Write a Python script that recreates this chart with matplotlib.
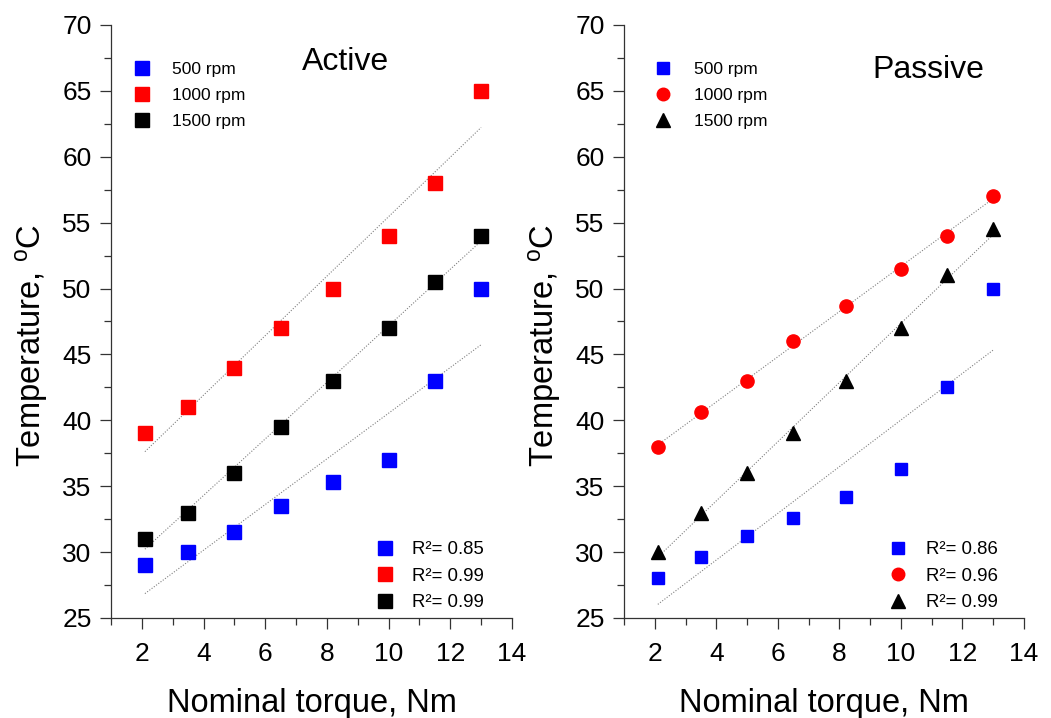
import matplotlib
matplotlib.use('Agg')
import matplotlib.pyplot as plt
from matplotlib.lines import Line2D
from matplotlib.ticker import MultipleLocator
import numpy as np

plt.rcParams['font.family'] = ['Liberation Sans', 'DejaVu Sans']
plt.rcParams['mathtext.fontset'] = 'custom'
plt.rcParams['mathtext.rm'] = 'Liberation Sans'
plt.rcParams['mathtext.it'] = 'Liberation Sans:italic'

# torque values (Nm)
torque = [2.1, 3.5, 5.0, 6.5, 8.2, 10.0, 11.5, 13.0]

# Active cooling temperatures (C)
active_500 = [29, 30, 31.5, 33.5, 35.3, 37, 43, 50]
active_1000 = [39, 41, 44, 47, 50, 54, 58, 65]
active_1500 = [31, 33, 36, 39.5, 43, 47, 50.5, 54]
active_r2 = ["0.85", "0.99", "0.99"]

# Passive cooling temperatures (C)
passive_500 = [28, 29.6, 31.2, 32.6, 34.2, 36.3, 42.5, 50]
passive_1000 = [38, 40.6, 43, 46, 48.7, 51.5, 54, 57]
passive_1500 = [30, 33, 36, 39, 43, 47, 51, 54.5]
passive_r2 = ["0.86", "0.96", "0.99"]

speeds = ["500 rpm", "1000 rpm", "1500 rpm"]
colors = ["#0000ff", "#ff0000", "#000000"]

fig = plt.figure(figsize=(10.51, 7.18), dpi=100)
ax1 = fig.add_axes([0.1056, 0.1393, 0.3815, 0.826])
ax2 = fig.add_axes([0.5937, 0.1393, 0.3806, 0.826])


def draw_panel(ax, series, markers, sizes, r2, title, title_xy, top_leg, bot_leg):
    x = np.array(torque)
    for ys, m, ms, c in zip(series, markers, sizes, colors):
        y = np.array(ys)
        k, b = np.polyfit(x, y, 1)
        ax.plot(x, k * x + b, color="#808080", lw=0.8, ls=(0, (1, 1.5)), zorder=1)
        ax.plot(x, y, ls="none", marker=m, ms=ms, color=c, mec=c, zorder=3)

    ax.set_xlim(1, 14)
    ax.set_ylim(25, 70)
    ax.xaxis.set_major_locator(MultipleLocator(2))
    ax.xaxis.set_minor_locator(MultipleLocator(1))
    ax.yaxis.set_major_locator(MultipleLocator(5))
    ax.yaxis.set_minor_locator(MultipleLocator(2.5))
    ax.spines["top"].set_visible(False)
    ax.spines["right"].set_visible(False)
    for s in ("left", "bottom"):
        ax.spines[s].set_color("#333333")
        ax.spines[s].set_linewidth(0.9)
    ax.tick_params(which="major", direction="out", length=8, width=0.9,
                   labelsize=19, colors="#333333", labelcolor="black")
    ax.tick_params(which="minor", direction="out", length=5, width=0.9, colors="#333333")
    ax.tick_params(axis="x", pad=9)
    ax.tick_params(axis="y", pad=6)
    ax.set_xlabel("Nominal torque, Nm", fontsize=23.5, labelpad=16)
    ax.set_ylabel(r"Temperature, $^{\mathrm{o}}$C", fontsize=23.5)
    ax.yaxis.set_label_coords(-0.152, 0.46)

    ax.text(title_xy[0], title_xy[1], title, transform=ax.transAxes,
            fontsize=23, ha="center", va="center")

    handles = [Line2D([], [], ls="none", marker=m, ms=ms * 0.95, color=c)
               for m, ms, c in zip(markers, sizes, colors)]
    leg1 = ax.legend(handles, speeds, loc="upper left", bbox_to_anchor=(top_leg[0], 0.938),
                     frameon=False, fontsize=12.5, handlelength=1.0,
                     handletextpad=top_leg[1], borderpad=0, borderaxespad=0,
                     labelspacing=0.63)
    ax.add_artist(leg1)
    ax.legend(handles, ["R\u00b2= " + v for v in r2], loc="lower left",
              bbox_to_anchor=(bot_leg[0], 0.011), frameon=False, fontsize=13.4,
              handlelength=0.93, handletextpad=bot_leg[1], borderpad=0,
              borderaxespad=0, labelspacing=0.52)


draw_panel(ax1, [active_500, active_1000, active_1500], ["s", "s", "s"],
           [10, 10, 10], active_r2, "Active", (0.585, 0.938),
           (0.0556, 1.22), (0.6616, 0.98))
draw_panel(ax2, [passive_500, passive_1000, passive_1500], ["s", "o", "^"],
           [8.5, 9.5, 10], passive_r2, "Passive", (0.76, 0.924),
           (0.0757, 1.28), (0.663, 1.03))

fig.savefig("out.png", dpi=100)
